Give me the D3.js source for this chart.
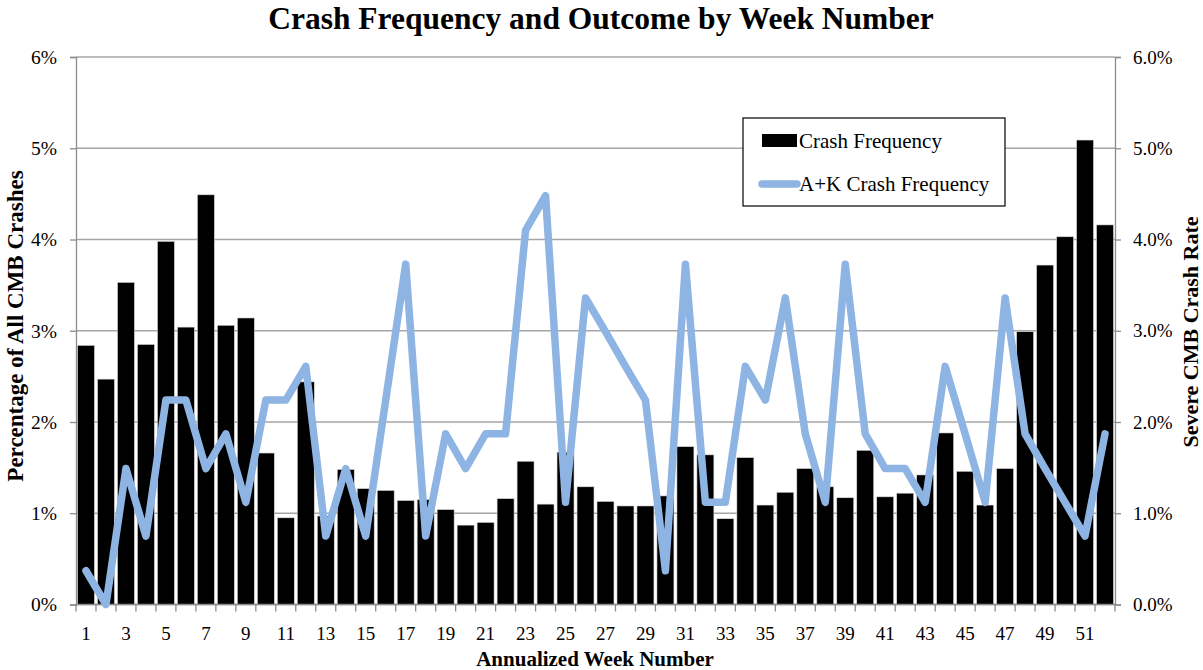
<!DOCTYPE html>
<html>
<head>
<meta charset="utf-8">
<script src="https://cdn.jsdelivr.net/npm/d3@7"></script>
<style>
  body { margin: 0; background: #fff; }
  text { font-family: "Liberation Serif", "Times New Roman", serif; }
</style>
</head>
<body>
<svg id="chart" width="1203" height="670"></svg>
<script>
const weeks = d3.range(1, 53);
const crashFrequency = [
  2.84, 2.47, 3.53, 2.85, 3.98, 3.04, 4.49, 3.06, 3.14, 1.66,
  0.95, 2.44, 0.97, 1.48, 1.27, 1.25, 1.14, 1.15, 1.04, 0.87,
  0.90, 1.16, 1.57, 1.10, 1.67, 1.29, 1.13, 1.08, 1.08, 1.19,
  1.73, 1.64, 0.94, 1.61, 1.09, 1.23, 1.49, 1.29, 1.17, 1.69,
  1.18, 1.22, 1.42, 1.88, 1.46, 1.09, 1.49, 2.99, 3.72, 4.03,
  5.09, 4.16
];
const akCrashFrequency = [
  0.37, 0.00, 1.49, 0.75, 2.24, 2.24, 1.49, 1.87, 1.12, 2.24,
  2.24, 2.61, 0.75, 1.49, 0.75, 2.24, 3.73, 0.75, 1.87, 1.49,
  1.87, 1.87, 4.10, 4.48, 1.12, 3.36, 2.99, 2.61, 2.24, 0.37,
  3.73, 1.12, 1.12, 2.61, 2.24, 3.36, 1.87, 1.12, 3.73, 1.87,
  1.49, 1.49, 1.12, 2.61, 1.87, 1.12, 3.36, 1.87, 1.49, 1.12,
  0.75, 1.87
];
const leftTicks = [0, 1, 2, 3, 4, 5, 6];
const rightTicks = [0, 1, 2, 3, 4, 5, 6];

const svg = d3.select("#chart");
const L = 76, R = 1115, T = 57, B = 604.5;

const x = d3.scaleBand().domain(weeks).range([L, R]).paddingInner(0.15).paddingOuter(0.075);
const xStep = d3.scaleBand().domain(weeks).range([L, R]);
const yL = d3.scaleLinear().domain([0, 6]).range([B, T]);
const yR = d3.scaleLinear().domain([0, 6]).range([B, T]);

// title
svg.append("text").attr("x", 601).attr("y", 29).attr("text-anchor", "middle")
  .attr("font-size", 31.5).attr("font-weight", "bold")
  .text("Crash Frequency and Outcome by Week Number");

// gridlines
svg.append("g").selectAll("line").data(leftTicks).join("line")
  .attr("x1", L).attr("x2", R)
  .attr("y1", d => yL(d)).attr("y2", d => yL(d))
  .attr("stroke", "#a6a6a6").attr("stroke-width", 1.3);

// bars
svg.append("g").selectAll("rect").data(weeks).join("rect")
  .attr("x", d => x(d))
  .attr("width", x.bandwidth())
  .attr("y", (d, i) => yL(crashFrequency[i]))
  .attr("height", (d, i) => B - yL(crashFrequency[i]))
  .attr("fill", "#000")
  .attr("stroke", "#d9d9d9").attr("stroke-width", 0.6);

// left axis
const gL = svg.append("g").attr("transform", `translate(${L},0)`)
  .call(d3.axisLeft(yL).tickValues(leftTicks).tickSize(6).tickPadding(13).tickFormat(d => d + "%"));
gL.select(".domain").attr("stroke", "#8c8c8c").attr("stroke-width", 1.3);
gL.selectAll(".tick line").attr("stroke", "#8c8c8c").attr("stroke-width", 1.3);
gL.selectAll(".tick text").attr("font-size", 19.5).attr("font-family", "Liberation Serif").attr("fill", "#000");

// right axis
const gR = svg.append("g").attr("transform", `translate(${R},0)`)
  .call(d3.axisRight(yR).tickValues(rightTicks).tickSize(6).tickPadding(12).tickFormat(d => d.toFixed(1) + "%"));
gR.select(".domain").attr("stroke", "#8c8c8c").attr("stroke-width", 1.3);
gR.selectAll(".tick line").attr("stroke", "#8c8c8c").attr("stroke-width", 1.3);
gR.selectAll(".tick text").attr("font-size", 19).attr("font-family", "Liberation Serif").attr("fill", "#000");

// bottom axis: ticks between categories
const gB = svg.append("g");
gB.append("line").attr("x1", L).attr("x2", R).attr("y1", B).attr("y2", B)
  .attr("stroke", "#8c8c8c").attr("stroke-width", 1.3);
gB.selectAll("line.tk").data(weeks.concat([53])).join("line").attr("class", "tk")
  .attr("x1", d => d <= 52 ? xStep(d) : R).attr("x2", d => d <= 52 ? xStep(d) : R)
  .attr("y1", B).attr("y2", B + 7)
  .attr("stroke", "#8c8c8c").attr("stroke-width", 1.3);
gB.selectAll("text").data(weeks.filter(d => d % 2 === 1)).join("text")
  .attr("x", d => xStep(d) + xStep.bandwidth() / 2)
  .attr("y", 640).attr("text-anchor", "middle")
  .attr("font-size", 19).text(d => d);

// line
const line = d3.line()
  .x((d, i) => xStep(weeks[i]) + xStep.bandwidth() / 2)
  .y(d => yR(d));
svg.append("path").datum(akCrashFrequency)
  .attr("d", line).attr("fill", "none")
  .attr("stroke", "#8db4e2").attr("stroke-width", 7.5)
  .attr("stroke-linejoin", "round").attr("stroke-linecap", "round");

// axis titles
svg.append("text").attr("x", 595).attr("y", 666).attr("text-anchor", "middle")
  .attr("font-size", 21).attr("font-weight", "bold").text("Annualized Week Number");
svg.append("text").attr("transform", "translate(23,326) rotate(-90)").attr("text-anchor", "middle")
  .attr("font-size", 23).attr("font-weight", "bold").text("Percentage of All CMB Crashes");
svg.append("text").attr("transform", "translate(1198,332) rotate(-90)").attr("text-anchor", "middle")
  .attr("font-size", 22).attr("font-weight", "bold").text("Severe CMB Crash Rate");

// legend
const lg = svg.append("g");
lg.append("rect").attr("x", 743).attr("y", 118).attr("width", 262).attr("height", 88)
  .attr("fill", "#fff").attr("stroke", "#000").attr("stroke-width", 1.2);
lg.append("rect").attr("x", 762).attr("y", 134).attr("width", 35).attr("height", 13).attr("fill", "#000");
lg.append("text").attr("x", 799).attr("y", 148).attr("font-size", 21).text("Crash Frequency");
lg.append("line").attr("x1", 762).attr("x2", 797).attr("y1", 184).attr("y2", 184)
  .attr("stroke", "#8db4e2").attr("stroke-width", 7.5).attr("stroke-linecap", "round");
lg.append("text").attr("x", 799).attr("y", 191).attr("font-size", 21).text("A+K Crash Frequency");
</script>
</body>
</html>
